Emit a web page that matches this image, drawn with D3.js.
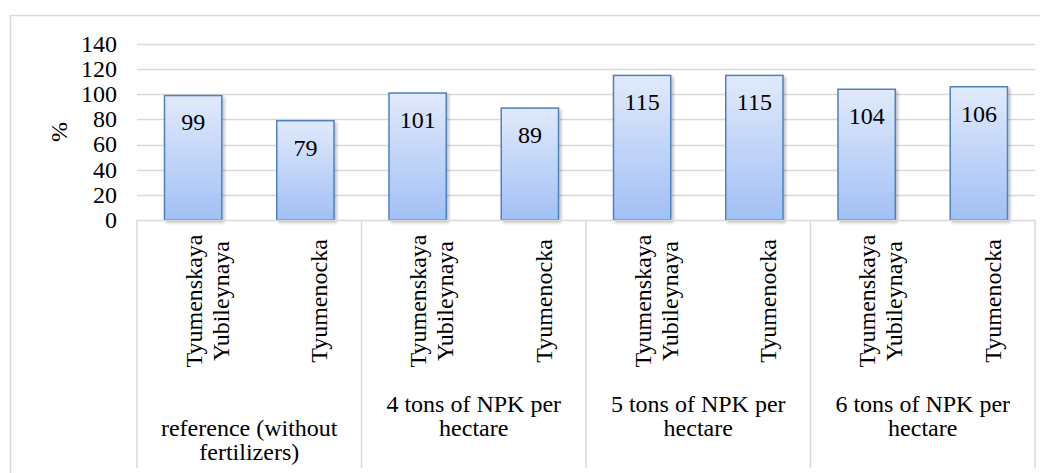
<!DOCTYPE html>
<html>
<head>
<meta charset="utf-8">
<script src="https://cdn.jsdelivr.net/npm/d3@7"></script>
</head>
<body style="margin:0;background:#fff">
<div class="chart"></div>
<script>
// chart data
var groupLines = [
  ['reference (without', 'fertilizers)'],
  ['4 tons of NPK per', 'hectare'],
  ['5 tons of NPK per', 'hectare'],
  ['6 tons of NPK per', 'hectare']
];
var varieties = [['Tyumenskaya', 'Yubileynaya'], ['Tyumenocka']];
var values = [99, 79, 101, 89, 115, 115, 104, 106];
var yTicks = [0, 20, 40, 60, 80, 100, 120, 140];
var yLabel = '%';

var opts = {
  width: 1049,
  height: 473,
  left: 137,
  right: 1035,
  top: 44,
  bottom: 220,
  fontSize: 24
};

var svg = d3.select('.chart').append('svg')
  .attr('width', opts.width)
  .attr('height', opts.height);

// every text goes through here so font is set on the element itself
var addText = function(parent, str) {
  return parent.append('text')
    .attr('font-family', 'Liberation Serif')
    .style('font-family', "'Liberation Serif', 'Times New Roman', serif")
    .attr('font-size', opts.fontSize)
    .attr('fill', '#000')
    .text(String(str));
};

var defs = svg.append('defs');
var grad = defs.append('linearGradient').attr('id', 'barFill')
  .attr('x1', 0).attr('y1', 0).attr('x2', 0).attr('y2', 1);
grad.append('stop').attr('offset', '0%').attr('stop-color', '#e1eafb');
grad.append('stop').attr('offset', '100%').attr('stop-color', '#a2c0f5');

var shadow = defs.append('filter').attr('id', 'shadow')
  .attr('x', '-20%').attr('y', '-20%').attr('width', '150%').attr('height', '150%');
shadow.append('feDropShadow').attr('dx', 2).attr('dy', 2).attr('stdDeviation', 1.5)
  .attr('flood-color', '#000').attr('flood-opacity', 0.25);

// items = every (group, variety) pair
var items = [];
groupLines.forEach(function(g, gi) {
  varieties.forEach(function(v, vi) {
    items.push({ key: gi + '-' + vi, group: gi, variety: vi, value: values[gi * varieties.length + vi] });
  });
});

var x = d3.scaleBand()
  .domain(items.map(d => d.key))
  .range([opts.left, opts.right])
  .paddingInner(0.49)
  .paddingOuter(0.245);

var xGroup = d3.scaleBand()
  .domain(groupLines.map((g, i) => i))
  .range([opts.left, opts.right]);

var y = d3.scaleLinear().domain([0, 140]).range([opts.bottom, opts.top]);

// outer chart border (top + left visible)
svg.append('line').attr('x1', 10).attr('x2', 1040).attr('y1', 15.5).attr('y2', 15.5)
  .attr('stroke', '#d9d9d9').attr('stroke-width', 1.5);
svg.append('line').attr('x1', 10.5).attr('x2', 10.5).attr('y1', 15).attr('y2', opts.height)
  .attr('stroke', '#d9d9d9').attr('stroke-width', 1.5);

// gridlines
svg.append('g').selectAll('line').data(yTicks.filter(t => t > 0)).enter().append('line')
  .attr('x1', opts.left).attr('x2', opts.right)
  .attr('y1', d => Math.round(y(d)) + 0.5).attr('y2', d => Math.round(y(d)) + 0.5)
  .attr('stroke', '#d9d9d9').attr('stroke-width', 1.5);

// y tick labels
var tickG = svg.append('g');
yTicks.forEach(function(t) {
  addText(tickG, t)
    .attr('x', 117).attr('y', y(t))
    .attr('dy', '0.33em')
    .attr('text-anchor', 'end');
});

addText(svg, yLabel)
  .attr('transform', 'translate(67,' + (opts.top + opts.bottom) / 2 + ') rotate(-90)')
  .attr('text-anchor', 'middle');

// bars
svg.append('g').selectAll('rect').data(items).enter().append('rect')
  .attr('x', d => x(d.key))
  .attr('y', d => y(d.value))
  .attr('width', x.bandwidth())
  .attr('height', d => y(0) - y(d.value))
  .attr('fill', 'url(#barFill)')
  .attr('stroke', '#4f81bd')
  .attr('stroke-width', 1.5)
  .attr('filter', 'url(#shadow)');

// value labels
var valG = svg.append('g');
items.forEach(function(d) {
  addText(valG, d.value)
    .attr('x', x(d.key) + x.bandwidth() / 2)
    .attr('y', y(d.value) + 27)
    .attr('dy', '0.33em')
    .attr('text-anchor', 'middle');
});

// category axis: baseline + group separators
svg.append('line').attr('x1', opts.left).attr('x2', opts.right)
  .attr('y1', opts.bottom + 0.5).attr('y2', opts.bottom + 0.5)
  .attr('stroke', '#d9d9d9').attr('stroke-width', 1.5);

var seps = groupLines.map((g, i) => xGroup(i)).concat([opts.right]);
svg.append('g').selectAll('line').data(seps).enter().append('line')
  .attr('x1', d => d).attr('x2', d => d)
  .attr('y1', opts.bottom).attr('y2', 468)
  .attr('stroke', '#d9d9d9').attr('stroke-width', 1.5);

// rotated variety labels
items.forEach(function(d) {
  var lines = varieties[d.variety];
  var g = svg.append('g')
    .attr('transform', 'translate(' + (x(d.key) + x.bandwidth() / 2 + 14) + ',301) rotate(-90)');
  lines.forEach(function(t, li) {
    addText(g, t)
      .attr('x', 0)
      .attr('y', (li - (lines.length - 1) / 2) * 27)
      .attr('dy', '0.33em')
      .attr('text-anchor', 'middle');
  });
});

// group labels
groupLines.forEach(function(lines, gi) {
  var g = svg.append('g');
  var startY = gi === 0 ? 428 : 404;
  lines.forEach(function(t, li) {
    addText(g, t)
      .attr('x', xGroup(gi) + xGroup.bandwidth() / 2)
      .attr('y', startY + li * 24)
      .attr('dy', '0.33em')
      .attr('text-anchor', 'middle');
  });
});
</script>
</body>
</html>
